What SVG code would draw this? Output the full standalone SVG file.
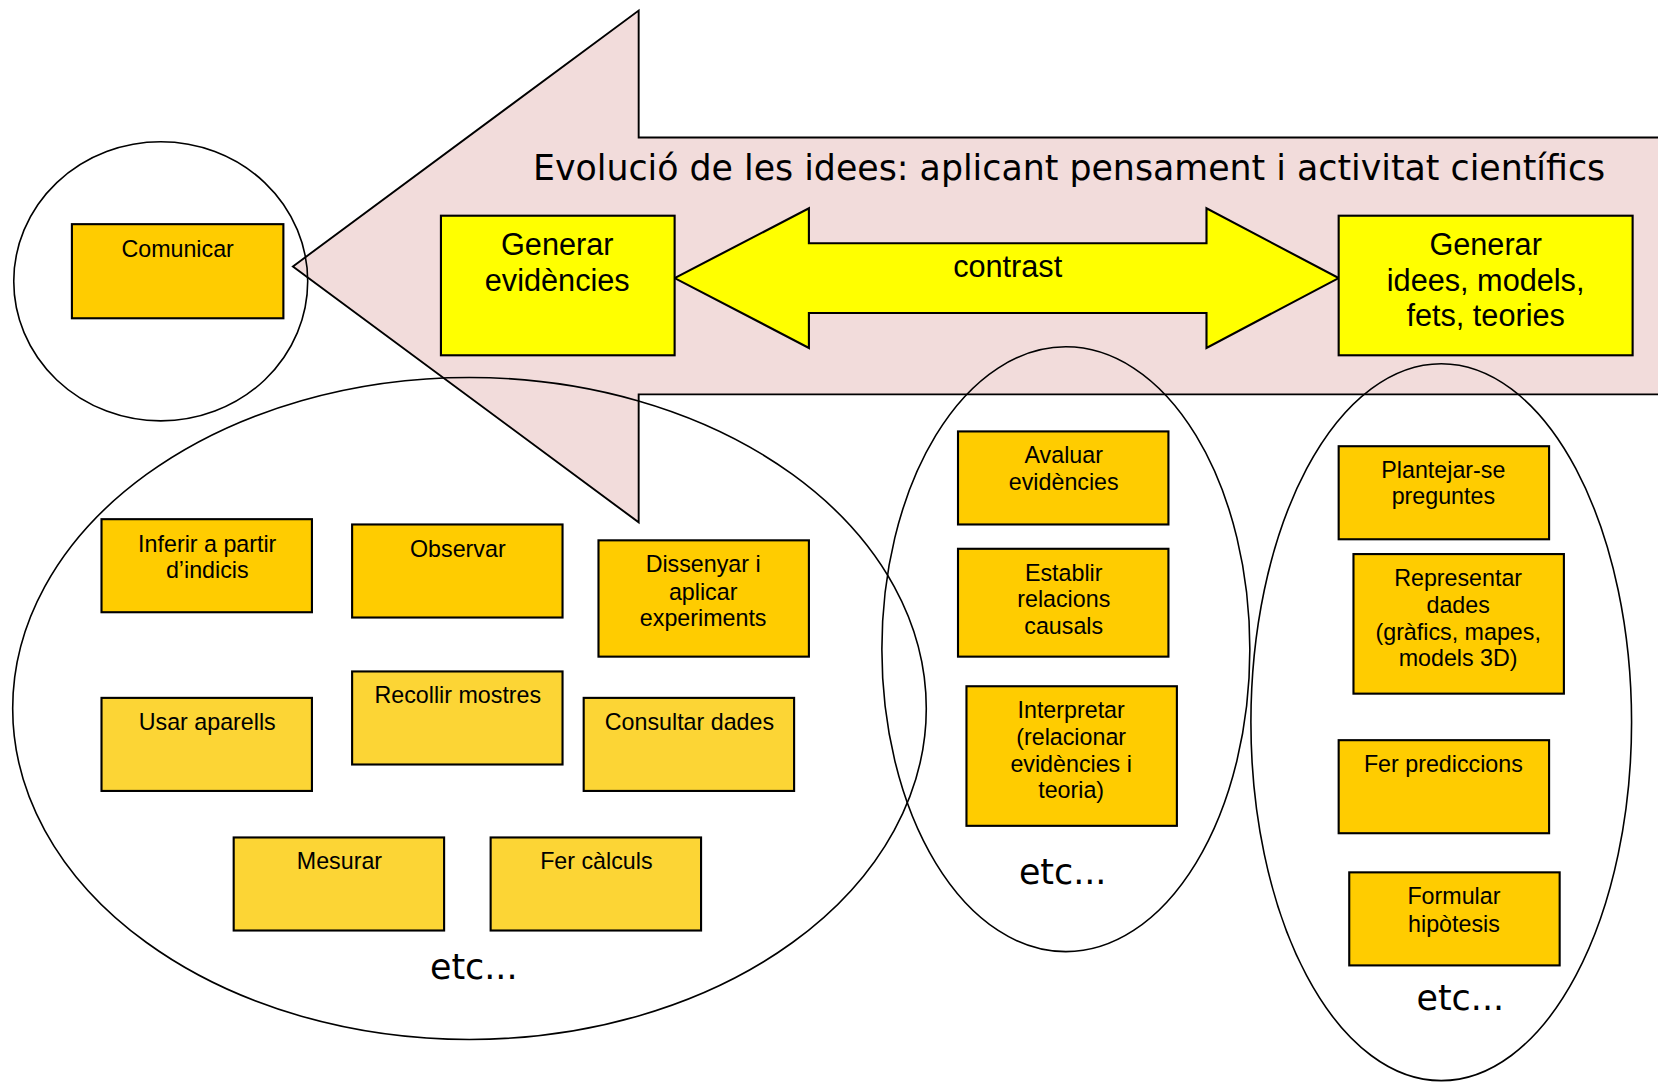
<svg xmlns="http://www.w3.org/2000/svg" width="1658" height="1082" viewBox="0 0 1658 1082">
<style>
.box{fill:#FFCC00;stroke:#000;stroke-width:2}
.lbox{fill:#FCD535;stroke:#000;stroke-width:2}
.ybox{fill:#FFFF00;stroke:#000;stroke-width:2}
.ell{fill:none;stroke:#000;stroke-width:1.5}
.t{font-family:"Liberation Sans",Arial,sans-serif;font-size:22px;fill:#000;text-anchor:middle}
.tb{font-family:"Liberation Sans",Arial,sans-serif;font-size:29px;fill:#000;text-anchor:middle}
.etc{font-family:"DejaVu Sans",Verdana,sans-serif;font-size:33px;fill:#000;text-anchor:middle}
</style>
<rect x="0" y="0" width="1658" height="1082" fill="#fff"/>
<g transform="scale(1.0574)">
<g id="big-arrow">
<polygon points="277,252 604,10 604,130 1620,130 1620,373 604,373 604,494" fill="#F2DCDB" stroke="#000" stroke-width="1.8"/>
<text x="504" y="170" font-family="DejaVu Sans,Verdana,sans-serif" font-size="33" textLength="1014" lengthAdjust="spacingAndGlyphs">Evolució de les idees: aplicant pensament i activitat científics</text>
</g>
<g id="connectors">
<g id="contrast-arrow">
<polygon points="638,263 765,197 765,230 1141,230 1141,197 1266,263 1141,329 1141,296 765,296 765,329" fill="#FFFF00" stroke="#000" stroke-width="2"/>
<text class="tb" x="953" y="262">contrast</text>
</g>
</g>
<g id="groups">
<ellipse id="ell-comunicar" class="ell" cx="152" cy="266" rx="139" ry="132"/>
<ellipse id="ell-evidencies" class="ell" cx="444" cy="670" rx="432" ry="313"/>
<ellipse id="ell-contrast" class="ell" cx="1008" cy="614" rx="174" ry="286"/>
<ellipse id="ell-idees" class="ell" cx="1363" cy="683" rx="180" ry="339"/>
</g>
<g id="n-gen-evid"><rect class="ybox" x="417" y="204" width="221" height="132"/><text class="tb" x="527" y="241">Generar</text><text class="tb" x="527" y="275">evidències</text></g>
<g id="n-gen-idees"><rect class="ybox" x="1266" y="204" width="278" height="132"/><text class="tb" x="1405" y="241">Generar</text><text class="tb" x="1405" y="275">idees, models,</text><text class="tb" x="1405" y="308">fets, teories</text></g>
<g id="n-comunicar"><rect class="box" x="68" y="212" width="200" height="89"/><text class="t" x="168" y="243">Comunicar</text></g>
<g id="n-inferir"><rect class="box" x="96" y="491" width="199" height="88"/><text class="t" x="196" y="522">Inferir a partir</text><text class="t" x="196" y="547">d’indicis</text></g>
<g id="n-observar"><rect class="box" x="333" y="496" width="199" height="88"/><text class="t" x="433" y="527">Observar</text></g>
<g id="n-dissenyar"><rect class="box" x="566" y="511" width="199" height="110"/><text class="t" x="665" y="541">Dissenyar i</text><text class="t" x="665" y="567">aplicar</text><text class="t" x="665" y="592">experiments</text></g>
<g id="n-usar"><rect class="lbox" x="96" y="660" width="199" height="88"/><text class="t" x="196" y="690">Usar aparells</text></g>
<g id="n-recollir"><rect class="lbox" x="333" y="635" width="199" height="88"/><text class="t" x="433" y="665">Recollir mostres</text></g>
<g id="n-consultar"><rect class="lbox" x="552" y="660" width="199" height="88"/><text class="t" x="652" y="690">Consultar dades</text></g>
<g id="n-mesurar"><rect class="lbox" x="221" y="792" width="199" height="88"/><text class="t" x="321" y="822">Mesurar</text></g>
<g id="n-calculs"><rect class="lbox" x="464" y="792" width="199" height="88"/><text class="t" x="564" y="822">Fer càlculs</text></g>
<text class="etc" x="448" y="926">etc...</text>
<g id="n-avaluar"><rect class="box" x="906" y="408" width="199" height="88"/><text class="t" x="1006" y="438">Avaluar</text><text class="t" x="1006" y="463">evidències</text></g>
<g id="n-establir"><rect class="box" x="906" y="519" width="199" height="102"/><text class="t" x="1006" y="549">Establir</text><text class="t" x="1006" y="574">relacions</text><text class="t" x="1006" y="600">causals</text></g>
<g id="n-interpretar"><rect class="box" x="914" y="649" width="199" height="132"/><text class="t" x="1013" y="679">Interpretar</text><text class="t" x="1013" y="705">(relacionar</text><text class="t" x="1013" y="730">evidències i</text><text class="t" x="1013" y="755">teoria)</text></g>
<text class="etc" x="1005" y="836">etc...</text>
<g id="n-plantejar"><rect class="box" x="1266" y="422" width="199" height="88"/><text class="t" x="1365" y="452">Plantejar-se</text><text class="t" x="1365" y="477">preguntes</text></g>
<g id="n-representar"><rect class="box" x="1280" y="524" width="199" height="132"/><text class="t" x="1379" y="554">Representar</text><text class="t" x="1379" y="580">dades</text><text class="t" x="1379" y="605">(gràfics, mapes,</text><text class="t" x="1379" y="630">models 3D)</text></g>
<g id="n-prediccions"><rect class="box" x="1266" y="700" width="199" height="88"/><text class="t" x="1365" y="730">Fer prediccions</text></g>
<g id="n-hipotesis"><rect class="box" x="1276" y="825" width="199" height="88"/><text class="t" x="1375" y="855">Formular</text><text class="t" x="1375" y="881">hipòtesis</text></g>
<text class="etc" x="1381" y="955">etc...</text>
</g>
</svg>
